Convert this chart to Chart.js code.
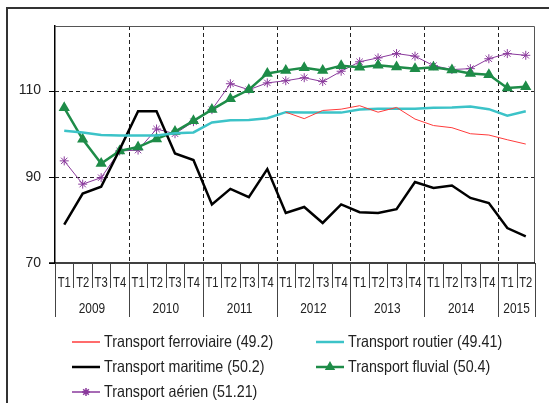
<!DOCTYPE html>
<html>
<head>
<meta charset="utf-8">
<script src="https://cdn.jsdelivr.net/npm/chart.js@4.4.0/dist/chart.umd.min.js"></script>
<style>
  html, body { margin: 0; padding: 0; background: #fff; }
  #wrap { width: 549px; height: 403px; }
</style>
</head>
<body>
<div id="wrap"><canvas id="chart" width="549" height="403"></canvas></div>
<script>
// données trimestrielles 2009 T1 -> 2015 T2
const quarters = ["T1","T2","T3","T4","T1","T2","T3","T4","T1","T2","T3","T4","T1","T2","T3","T4",
                  "T1","T2","T3","T4","T1","T2","T3","T4","T1","T2"];
const years = ["2009","2010","2011","2012","2013","2014","2015"];
const quartersPerYear = [4, 4, 4, 4, 4, 4, 2];
const yTicks = [70, 90, 110];

const ferroviaire = [null, null, null, null, null, null, null, null, null, null, null, null,
  105.0, 103.5, 105.4, 105.7, 106.5, 105.0, 106.1, 103.4, 101.9, 101.4, 100.0, 99.7, 98.6, 97.6];
const routier = [100.7, 100.3, 99.7, 99.6, 99.6, 99.6, 100.1, 100.3, 102.6, 103.1, 103.2, 103.6, 105.0,
  104.9, 104.9, 104.9, 105.6, 105.8, 105.8, 105.8, 106.0, 106.1, 106.3, 105.7, 104.2, 105.2];
const maritime = [78.9, 86.1, 87.7, 96.3, 105.2, 105.2, 95.4, 93.9, 83.6, 87.2, 85.3, 91.8, 81.6,
  83.0, 79.3, 83.6, 81.8, 81.6, 82.5, 88.8, 87.4, 88.0, 85.1, 83.9, 78.1, 76.2];
const fluvial = [106.0, 98.7, 93.1, 96.0, 96.9, 98.8, 100.5, 103.0, 105.6, 108.1, 110.2, 114.0, 114.7,
  115.3, 114.7, 115.8, 115.4, 115.9, 115.5, 115.1, 115.4, 114.8, 114.0, 113.7, 110.6, 110.9];
const aerien = [93.7, 88.3, 89.8, 96.0, 96.2, 101.1, 100.0, 102.8, 105.6, 111.6, 110.2, 111.8, 112.3,
  113.0, 112.1, 114.5, 116.7, 117.6, 118.6, 118.0, 115.8, 114.9, 115.1, 117.4, 118.6, 118.2];

const FONT = "'Liberation Sans', Arial, sans-serif";
const TEXT = "#222";

// libellés complets pour l'axe catégoriel
const labels = [];
let q = 0;
years.forEach((y, k) => {
  for (let j = 0; j < quartersPerYear[k]; j++) labels.push(y + " " + quarters[q++]);
});

// texte un peu condensé (la police d'origine est étroite)
function squeeze(ctx, text, x, y, sx) {
  ctx.save();
  ctx.translate(x, y);
  ctx.scale(sx, 1);
  ctx.fillText(text, 0, 0);
  ctx.restore();
}

// grille, cadre, tableau des trimestres et légende
const decor = {
  id: "decor",
  beforeDatasetsDraw(chart) {
    const { ctx, chartArea: a, scales: { x, y } } = chart;
    ctx.save();
    ctx.strokeStyle = "#222";
    ctx.lineWidth = 1;
    ctx.setLineDash([4, 3]);
    yTicks.forEach(v => {
      if (v === 70) return;
      const py = Math.round(y.getPixelForValue(v)) + 0.5;
      ctx.beginPath(); ctx.moveTo(a.left, py); ctx.lineTo(a.right, py); ctx.stroke();
    });
    let idx = 0;
    quartersPerYear.slice(0, -1).forEach(n => {
      idx += n;
      const px = Math.round((x.getPixelForValue(idx - 1) + x.getPixelForValue(idx)) / 2) + 0.5;
      ctx.beginPath(); ctx.moveTo(px, a.top); ctx.lineTo(px, a.bottom); ctx.stroke();
    });
    ctx.setLineDash([]);
    // bord haut et droit de la zone de tracé
    ctx.strokeStyle = "#555";
    ctx.beginPath();
    ctx.moveTo(a.left, a.top + 0.5); ctx.lineTo(a.right - 0.5, a.top + 0.5); ctx.lineTo(a.right - 0.5, a.bottom);
    ctx.stroke();
    ctx.restore();
  },
  afterDraw(chart) {
    const { ctx, chartArea: a, scales: { x, y } } = chart;
    ctx.save();
    // cadre extérieur
    ctx.strokeStyle = "#333";
    ctx.lineWidth = 2;
    ctx.beginPath(); ctx.moveTo(549, 8); ctx.lineTo(7, 8); ctx.lineTo(7, 403); ctx.stroke();

    // axe horizontal + petites graduations de l'axe vertical
    ctx.strokeStyle = "#000";
    ctx.lineWidth = 1.5;
    ctx.beginPath(); ctx.moveTo(a.left - 6, a.bottom); ctx.lineTo(a.right, a.bottom); ctx.stroke();
    ctx.lineWidth = 1;
    yTicks.forEach(v => {
      const py = Math.round(y.getPixelForValue(v)) + 0.5;
      ctx.beginPath(); ctx.moveTo(a.left - 6, py); ctx.lineTo(a.left, py); ctx.stroke();
    });

    // tableau des libellés
    const half = (x.getPixelForValue(1) - x.getPixelForValue(0)) / 2;
    const rowQ = a.bottom + 20, rowY = a.bottom + 46, qEnd = a.bottom + 25, yEnd = a.bottom + 54;
    ctx.strokeStyle = "#444";
    ctx.fillStyle = TEXT;
    ctx.textAlign = "center";
    ctx.textBaseline = "middle";
    ctx.font = "14px " + FONT;
    let start = 0;
    years.forEach((yr, k) => {
      const n = quartersPerYear[k];
      const left = x.getPixelForValue(start) - half;
      const right = x.getPixelForValue(start + n - 1) + half;
      for (let j = 0; j < n; j++) {
        const c = x.getPixelForValue(start + j);
        squeeze(ctx, quarters[start + j], c, rowQ, 0.8);
        if (j > 0) {
          const px = Math.round(c - half) + 0.5;
          ctx.beginPath(); ctx.moveTo(px, a.bottom); ctx.lineTo(px, qEnd); ctx.stroke();
        }
      }
      squeeze(ctx, yr, (left + right) / 2, rowY, 0.85);
      [left, right].forEach(e => {
        const px = Math.round(e) + 0.5;
        ctx.beginPath(); ctx.moveTo(px, a.bottom); ctx.lineTo(px, yEnd); ctx.stroke();
      });
      start += n;
    });

    // légende sur deux colonnes
    const cols = [72, 316], rows = [342, 367, 392];
    ctx.textAlign = "left";
    ctx.font = "16.5px " + FONT;
    chart.data.datasets.forEach((ds, i) => {
      const lx = cols[i % 2], ly = rows[Math.floor(i / 2)];
      ctx.strokeStyle = ds.borderColor;
      ctx.lineWidth = Math.max(ds.borderWidth, 1.5);
      ctx.beginPath(); ctx.moveTo(lx, ly); ctx.lineTo(lx + 28, ly); ctx.stroke();
      if (ds.pointRadius > 0) {
        ctx.fillStyle = ds.pointBackgroundColor;
        ctx.strokeStyle = ds.pointBorderColor;
        Chart.helpers.drawPoint(ctx, {
          pointStyle: ds.pointStyle, radius: ds.pointRadius - 0.5, borderWidth: 1, rotation: 0
        }, lx + 14, ly);
      }
      ctx.fillStyle = TEXT;
      squeeze(ctx, ds.label, lx + 32, ly, 0.865);
    });
    ctx.restore();
  }
};

const line = (label, data, color, width, extra) => Object.assign({
  label, data,
  borderColor: color, backgroundColor: color,
  borderWidth: width, pointRadius: 0, tension: 0, spanGaps: false
}, extra || {});

new Chart(document.getElementById("chart"), {
  type: "line",
  data: {
    labels,
    datasets: [
      line("Transport ferroviaire (49.2)", ferroviaire, "#ff3b3b", 1),
      line("Transport routier (49.41)", routier, "#3cc3c8", 2.5),
      line("Transport maritime (50.2)", maritime, "#000000", 2.5),
      line("Transport fluvial (50.4)", fluvial, "#1e8c48", 2.5,
        { pointStyle: "triangle", pointRadius: 4, pointBackgroundColor: "#1e8c48", pointBorderColor: "#1e8c48" }),
      line("Transport aérien (51.21)", aerien, "#8a3a9c", 1,
        { pointStyle: "star", pointRadius: 4.5, pointBorderWidth: 1, pointBackgroundColor: "#8a3a9c", pointBorderColor: "#8a3a9c" })
    ]
  },
  options: {
    responsive: false,
    animation: false,
    layout: { padding: { top: 26, right: 14, bottom: 140, left: 0 } },
    plugins: { legend: { display: false }, tooltip: { enabled: false } },
    scales: {
      x: { type: "category", offset: true, display: false },
      y: {
        min: 70, max: 125,
        afterFit: s => { s.width = 55; },
        afterBuildTicks: s => { s.ticks = yTicks.map(v => ({ value: v })); },
        grid: { display: false, drawTicks: false },
        border: { display: true, color: "#000", width: 1.5 },
        ticks: { font: { size: 14, family: FONT }, color: TEXT, padding: 14 }
      }
    }
  },
  plugins: [decor]
});
</script>
</body>
</html>
